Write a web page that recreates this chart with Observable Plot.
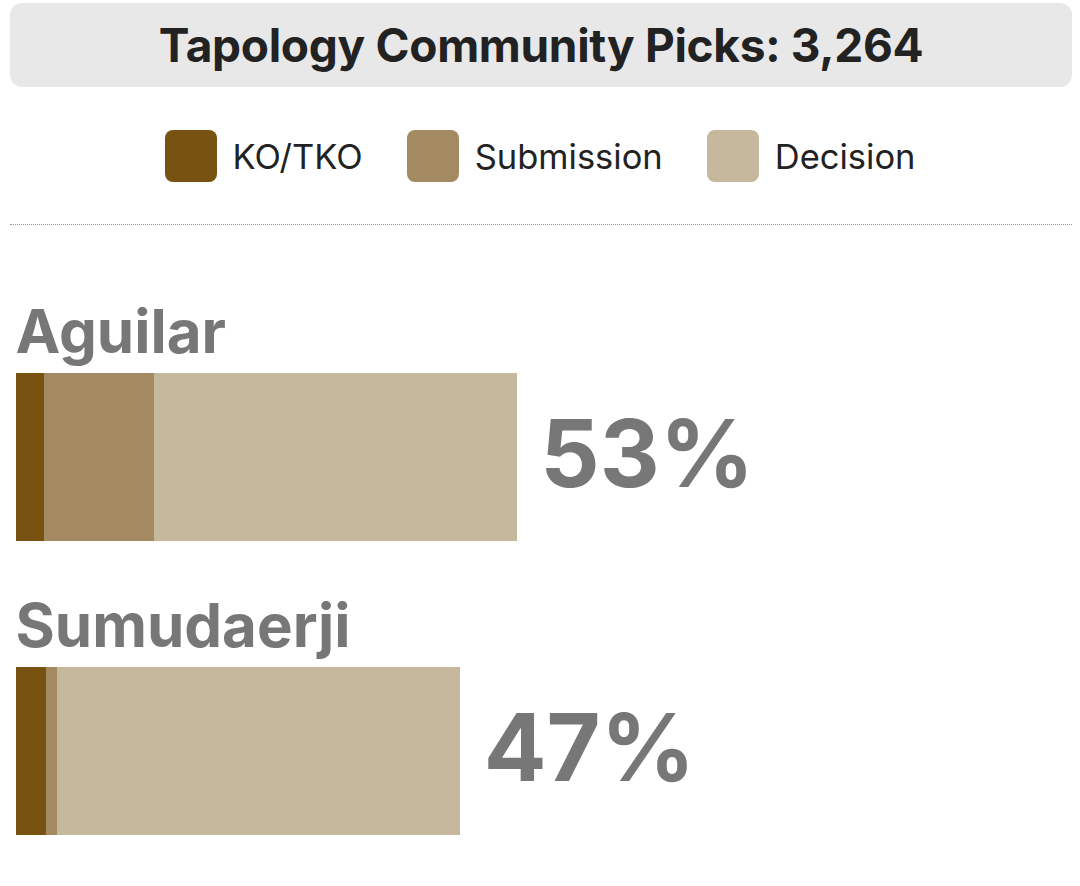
<!DOCTYPE html>
<html>
<head>
<meta charset="utf-8">
<script src="https://cdn.jsdelivr.net/npm/d3@7"></script>
<script src="https://cdn.jsdelivr.net/npm/@observablehq/plot@0.6"></script>
<style>
  html, body { margin: 0; padding: 0; background: #fff; width: 1080px; height: 886px; overflow: hidden; font-family: Inter, "Noto Sans", sans-serif; }
  #banner { position: absolute; left: 10px; top: 3px; width: 1062px; height: 84px; background: #e8e8e8; border-radius: 12px;
            display: flex; align-items: center; justify-content: center; font-size: 46px; font-weight: 700; color: #222; letter-spacing: -0.3px; }
  #legend { position: absolute; left: 0; top: 129px; width: 1080px; height: 54px; display: flex; justify-content: center; align-items: center; }
  .item { display: flex; align-items: center; margin: 0 22px; }
  .sw { width: 52px; height: 52px; border-radius: 8px; margin-right: 16px; }
  .lab { font-size: 34.5px; font-weight: 400; color: #222; }
  #rule { position: absolute; left: 10px; top: 224px; width: 1062px; height: 0; border-top: 1.5px dotted #999; }
  #chart { position: absolute; left: 0; top: 226px; }
</style>
</head>
<body>
<div id="banner"></div>
<div id="legend"></div>
<div id="rule"></div>
<div id="chart"></div>
<script>
const title = "Tapology Community Picks: 3,264";
const fighters = ["Aguilar", "Sumudaerji"];
const methods = ["KO/TKO", "Submission", "Decision"];
const colors = ["#775211", "#a38a60", "#c6b89c"];
const koPct = [3.0, 3.2];
const subPct = [11.6, 1.1];
const decPct = [38.4, 42.7];
const totalPct = [53, 47];

document.getElementById("banner").textContent = title;
const legend = document.getElementById("legend");
methods.forEach((m, i) => {
  const it = document.createElement("div"); it.className = "item";
  const sw = document.createElement("div"); sw.className = "sw"; sw.style.background = colors[i];
  const lb = document.createElement("div"); lb.className = "lab"; lb.textContent = m;
  it.appendChild(sw); it.appendChild(lb); legend.appendChild(it);
});

const rows = fighters.flatMap((f, i) => [
  {fighter: f, method: methods[0], value: koPct[i]},
  {fighter: f, method: methods[1], value: subPct[i]},
  {fighter: f, method: methods[2], value: decPct[i]}
]);
const totals = fighters.map((f, i) => ({fighter: f, total: totalPct[i]}));

const chart = Plot.plot({
  width: 1080,
  height: 660,
  margin: 0,
  style: {fontFamily: "Inter, 'Noto Sans', sans-serif", background: "transparent"},
  x: {domain: [0, 100], range: [16, 961], axis: null},
  y: {domain: fighters, range: [147, 609], paddingInner: 0.4286, paddingOuter: 0, axis: null},
  color: {domain: methods, range: colors},
  marks: [
    Plot.barX(rows, Plot.stackX({x: "value", y: "fighter", fill: "method", order: null, shapeRendering: "crispEdges"})),
    Plot.text(fighters, {x: () => 0, y: d => d, text: d => d, textAnchor: "start", lineAnchor: "bottom", dy: -105, dx: -1,
      fontSize: 60, fontWeight: 700, fill: "#777"}),
    Plot.text(totals, {x: "total", y: "fighter", text: d => d.total + "%", textAnchor: "start", dx: 23,
      fontSize: 93, fontWeight: 700, fill: "#777"})
  ]
});
document.getElementById("chart").appendChild(chart);
</script>
</body>
</html>
